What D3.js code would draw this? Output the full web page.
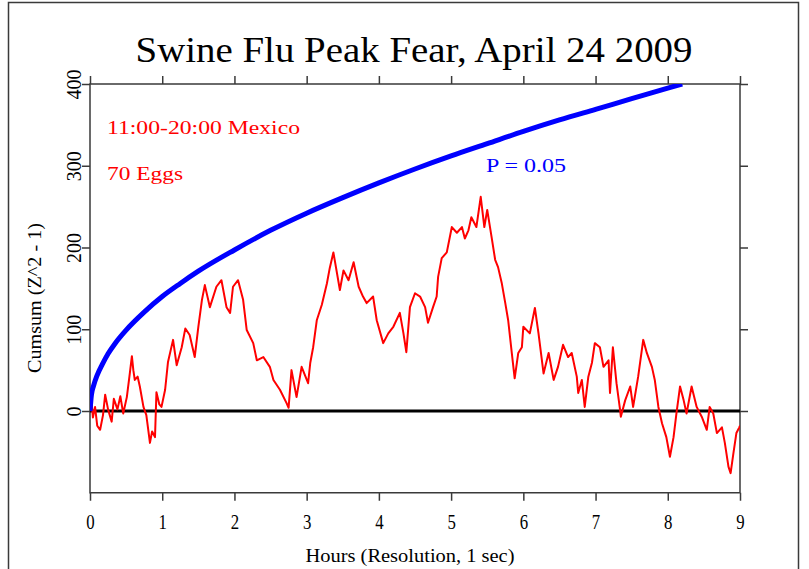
<!DOCTYPE html>
<html>
<head>
<meta charset="utf-8">
<script src="https://cdn.jsdelivr.net/npm/d3@7"></script>
<style>
body { margin: 0; background: #fff; }
svg { display: block; font-family: 'Liberation Serif', 'Times New Roman', serif; }
</style>
</head>
<body>
<svg id="chart" width="809" height="569"></svg>
<script>
// red trace: cumulative (Z^2 - 1)
var hours = [0, 0.02, 0.04, 0.07, 0.1, 0.14, 0.18, 0.21, 0.25, 0.3, 0.33, 0.38, 0.42, 0.46, 0.51, 0.55, 0.58, 0.6, 0.62, 0.66, 0.69, 0.74, 0.78, 0.83, 0.86, 0.9, 0.92, 0.96, 0.99,
    1.04, 1.08, 1.15, 1.2, 1.27, 1.32, 1.38, 1.45, 1.5, 1.55, 1.59, 1.66, 1.75, 1.82, 1.89, 1.94, 1.98,
    2.05, 2.12, 2.17, 2.26, 2.31, 2.4, 2.49, 2.54, 2.63, 2.72, 2.75, 2.79, 2.86, 2.93,
    3.02, 3.05, 3.09, 3.14, 3.21, 3.28, 3.32, 3.37, 3.46, 3.51, 3.58, 3.65, 3.72, 3.78, 3.83, 3.92, 3.97,
    4.06, 4.13, 4.2, 4.29, 4.34, 4.38, 4.43, 4.5, 4.57, 4.64, 4.68, 4.75, 4.8, 4.82, 4.87, 4.94,
    5.01, 5.08, 5.15, 5.19, 5.24, 5.28, 5.35, 5.41, 5.46, 5.5, 5.56, 5.61, 5.65, 5.7, 5.75, 5.79, 5.84, 5.88, 5.93, 5.98,
    6.0, 6.09, 6.16, 6.21, 6.28, 6.35, 6.42, 6.48, 6.55, 6.62, 6.67, 6.74, 6.76, 6.81, 6.85, 6.9, 6.95, 6.99,
    7.06, 7.11, 7.18, 7.2, 7.24, 7.29, 7.34, 7.35, 7.41, 7.48, 7.52, 7.59, 7.66, 7.71, 7.78, 7.82, 7.87, 7.92, 7.98,
    8.03, 8.08, 8.12, 8.17, 8.22, 8.26, 8.33, 8.4, 8.47, 8.54, 8.58, 8.63, 8.68, 8.75, 8.79, 8.84, 8.87, 8.91, 8.95, 8.99, 9];
var cumsum = [0, 14, -8, 5, -18, -23, -5, 20, 2, -13, 15, 2, 18, -3, 17, 45, 67, 50, 38, 42, 30, 5, -5, -39, -25, -32, 23, 8, 5,
    26, 60, 87, 56, 78, 101, 93, 66, 103, 136, 154, 127, 152, 160, 127, 120, 152,
    160, 136, 99, 83, 62, 66, 54, 38, 26, 10, 4, 50, 17, 54,
    34, 59, 78, 111, 130, 156, 175, 194, 148, 172, 160, 182, 152, 140, 132, 140, 111,
    83, 95, 103, 120, 95, 72, 127, 144, 140, 127, 108, 127, 140, 164, 187, 194,
    225, 218, 225, 211, 221, 237, 225, 262, 225, 246, 213, 185, 176, 157, 132, 111, 71, 40, 71, 78,
    103, 95, 126, 95, 46, 71, 38, 54, 81, 66, 71, 42, 22, 38, 5, 42, 59, 83,
    78, 54, 62, 22, 78, 34, 1, -7, 13, 30, 5, 42, 87, 71, 54, 38, 5, -15, -32,
    -56, -32, -3, 30, 13, -3, 30, 5, -7, -23, 5, -3, -27, -20, -39, -68, -76, -51, -27, -20, -18];

// blue trace: P = 0.05 envelope
var envHours = [0, 0.02, 0.05, 0.1, 0.17, 0.25, 0.35, 0.5, 0.75, 1, 1.25, 1.5, 2, 2.5, 3, 3.5, 4, 4.5, 5, 5.5, 6, 6.5, 7, 7.5, 8, 8.2];
var envValues = [0, 20, 31, 44, 57, 70, 83, 99, 121, 140, 156, 171, 197, 221, 242, 261, 279, 296, 312, 327, 342, 356, 369, 382, 395, 400];

var xTicks = [0, 1, 2, 3, 4, 5, 6, 7, 8, 9];
var yTicks = [0, 100, 200, 300, 400];

var svg = d3.select('#chart');
var frameColor = '#3a3a3a';

var x = d3.scaleLinear().domain([0, 9]).range([90, 740]);
var y = d3.scaleLinear().domain([-100, 400]).range([492.75, 84]);

// outer border of the image
svg.append('path')
    .attr('d', 'M8.5,569 L8.5,2.5 L798.5,2.5 L798.5,569')
    .attr('fill', 'none')
    .attr('stroke', frameColor)
    .attr('stroke-width', 1.5);

// title
svg.append('text')
    .attr('x', 414)
    .attr('y', 62)
    .attr('text-anchor', 'middle')
    .attr('font-size', 36)
    .attr('textLength', 557)
    .attr('lengthAdjust', 'spacingAndGlyphs')
    .text('Swine Flu Peak Fear, April 24 2009');

// axes: ticks on all four sides, pointing out
var axes = svg.append('g').attr('stroke-width', 1.5);

var bottom = axes.append('g')
    .attr('transform', 'translate(0,' + y(-100) + ')')
    .call(d3.axisBottom(x).tickValues(xTicks).tickSize(8).tickSizeOuter(0).tickPadding(13));
bottom.selectAll('text')
    .attr('font-size', 21)
    .attr('transform', 'scale(0.8,1)');

axes.append('g')
    .attr('transform', 'translate(0,' + y(400) + ')')
    .call(d3.axisTop(x).tickValues(xTicks).tickSize(8).tickSizeOuter(0).tickFormat(''));

var left = axes.append('g')
    .attr('transform', 'translate(' + x(0) + ',0)')
    .call(d3.axisLeft(y).tickValues(yTicks).tickSize(8).tickSizeOuter(0));
left.selectAll('text')
    .attr('font-size', 21)
    .attr('x', null)
    .attr('dy', null)
    .attr('text-anchor', 'middle')
    .attr('transform', 'translate(-9,0) rotate(-90) scale(0.95,1)');

axes.append('g')
    .attr('transform', 'translate(' + x(9) + ',0)')
    .call(d3.axisRight(y).tickValues(yTicks).tickSize(8).tickSizeOuter(0).tickFormat(''));

axes.selectAll('g').attr('font-family', null).attr('font-size', null);
axes.selectAll('.domain').remove();
axes.selectAll('line').attr('stroke', frameColor);
axes.selectAll('text').attr('fill', '#000');

// plot frame
svg.append('rect')
    .attr('x', x(0))
    .attr('y', y(400))
    .attr('width', x(9) - x(0))
    .attr('height', y(-100) - y(400))
    .attr('fill', 'none')
    .attr('stroke', frameColor)
    .attr('stroke-width', 1.5);

// axis titles
svg.append('text')
    .attr('x', 410)
    .attr('y', 562)
    .attr('text-anchor', 'middle')
    .attr('font-size', 19)
    .attr('textLength', 209)
    .attr('lengthAdjust', 'spacingAndGlyphs')
    .text('Hours (Resolution, 1 sec)');

svg.append('text')
    .attr('transform', 'translate(41,298) rotate(-90)')
    .attr('text-anchor', 'middle')
    .attr('font-size', 19)
    .attr('textLength', 150)
    .attr('lengthAdjust', 'spacingAndGlyphs')
    .text('Cumsum (Z^2 - 1)');

svg.append('defs').append('clipPath')
    .attr('id', 'plot-clip')
    .append('rect')
    .attr('x', x(0))
    .attr('y', y(400))
    .attr('width', x(9) - x(0))
    .attr('height', y(-100) - y(400));

var plot = svg.append('g').attr('clip-path', 'url(#plot-clip)');

// zero line
plot.append('line')
    .attr('x1', x(0))
    .attr('x2', x(9))
    .attr('y1', y(0))
    .attr('y2', y(0))
    .attr('stroke', '#000')
    .attr('stroke-width', 3);

var cumLine = d3.line()
    .x(function (d, i) { return x(hours[i]); })
    .y(function (d) { return y(d); });

plot.append('path')
    .attr('d', cumLine(cumsum))
    .attr('fill', 'none')
    .attr('stroke', '#ff0000')
    .attr('stroke-width', 2)
    .attr('stroke-linejoin', 'round');

var envLine = d3.line()
    .x(function (d, i) { return x(envHours[i]); })
    .y(function (d) { return y(d); })
    .curve(d3.curveMonotoneX);

plot.append('path')
    .attr('d', envLine(envValues))
    .attr('fill', 'none')
    .attr('stroke', '#0000ff')
    .attr('stroke-width', 5);

// notes
var notes = [
    {text: '11:00-20:00 Mexico', x: 107, y: 134, len: 193, color: '#ff0000'},
    {text: '70 Eggs', x: 107, y: 180, len: 76, color: '#ff0000'},
    {text: 'P = 0.05', x: 486, y: 172, len: 80, color: '#0000ff'}
];
svg.selectAll('.note')
    .data(notes)
    .enter()
    .append('text')
    .attr('class', 'note')
    .attr('x', function (d) { return d.x; })
    .attr('y', function (d) { return d.y; })
    .attr('font-size', 19)
    .attr('textLength', function (d) { return d.len; })
    .attr('lengthAdjust', 'spacingAndGlyphs')
    .attr('fill', function (d) { return d.color; })
    .text(function (d) { return d.text; });
</script>
</body>
</html>
